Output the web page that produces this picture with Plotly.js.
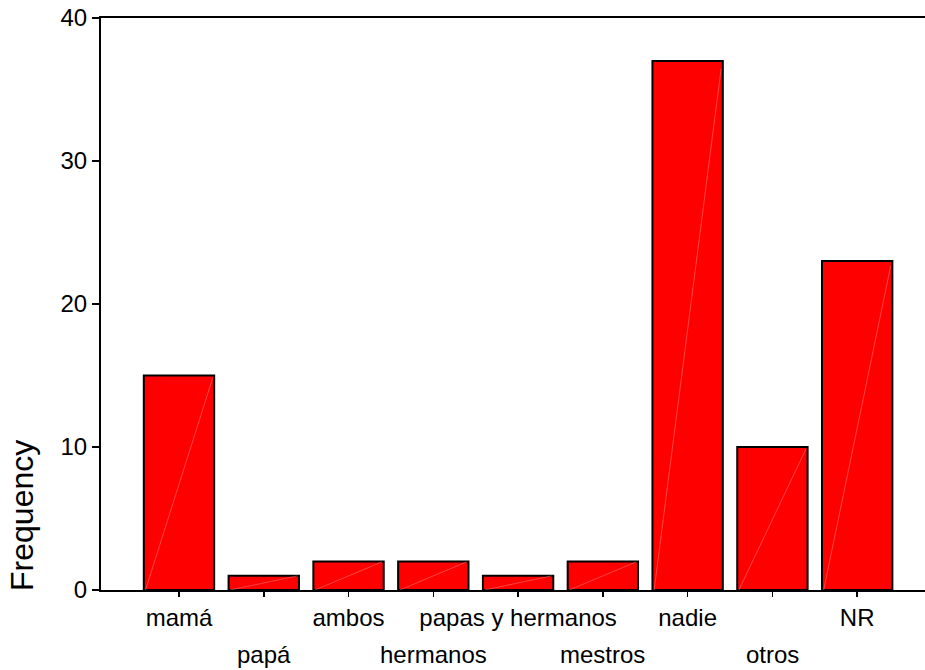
<!DOCTYPE html>
<html>
<head>
<meta charset="utf-8">
<script src="https://cdn.plot.ly/plotly-3.0.1.min.js"></script>
<style>html,body{margin:0;padding:0;background:#fff;}#chart{width:925px;height:670px;}</style>
</head>
<body>
<div id="chart"></div>
<script>
var categories = ["mamá", "papá", "ambos", "hermanos", "papas y hermanos", "mestros", "nadie", "otros", "NR"];
var frequency = [15, 1, 2, 2, 1, 2, 37, 10, 23];
var yTicks = [0, 10, 20, 30, 40];

var idx = categories.map(function (c, i) { return i; });
var barWidth = 0.83;
var fontFam = "Liberation Sans, Arial, sans-serif";

var traces = [{
  type: "bar",
  x: idx,
  y: frequency,
  width: barWidth,
  marker: { color: "#ff0000", line: { color: "#000000", width: 2 } },
  hoverinfo: "x+y"
}];

// faint diagonal highlight inside each bar (rendering artifact of the original)
frequency.forEach(function (v, i) {
  traces.push({
    type: "scatter",
    mode: "lines",
    x: [i - barWidth / 2 + 0.02, i + barWidth / 2 - 0.02],
    y: [0, v * 0.985],
    line: { color: "rgba(255,150,150,0.45)", width: 1 },
    hoverinfo: "skip",
    showlegend: false
  });
});

// first row labels on the axis, second row as annotations
var tickText = categories.map(function (c, i) { return i % 2 === 0 ? c : ""; });
var annotations = categories.map(function (c, i) {
  if (i % 2 === 0) return null;
  return {
    x: i, xref: "x", y: -0.112, yref: "paper",
    text: c, showarrow: false, xanchor: "center", yanchor: "middle",
    font: { family: fontFam, size: 24, color: "#000" }
  };
}).filter(function (a) { return a; });

annotations.push({
  x: -0.096, xref: "paper", y: 0.131, yref: "paper",
  text: "Frequency", textangle: -90, showarrow: false,
  xanchor: "center", yanchor: "middle",
  font: { family: fontFam, size: 32, color: "#000" }
});

var layout = {
  width: 925, height: 670,
  margin: { l: 101, r: 0, t: 18, b: 80, pad: 0 },
  paper_bgcolor: "#fff", plot_bgcolor: "#fff",
  showlegend: false,
  bargap: 0,
  xaxis: {
    range: [-0.92, 8.8],
    tickmode: "array", tickvals: idx, ticktext: tickText,
    ticks: "outside", ticklen: 5, tickwidth: 1.5, tickcolor: "#000",
    showline: true, linecolor: "#000", linewidth: 2, mirror: true,
    showgrid: false, zeroline: false,
    tickfont: { family: fontFam, size: 24, color: "#000" }
  },
  yaxis: {
    range: [0, 40],
    tickmode: "array", tickvals: yTicks,
    ticks: "outside", ticklen: 7, tickwidth: 1.5, tickcolor: "#000",
    showline: true, linecolor: "#000", linewidth: 2,
    showgrid: false, zeroline: false,
    tickfont: { family: fontFam, size: 24, color: "#000" }
  },
  annotations: annotations
};

Plotly.newPlot("chart", traces, layout, { displayModeBar: false, staticPlot: true });
</script>
</body>
</html>
